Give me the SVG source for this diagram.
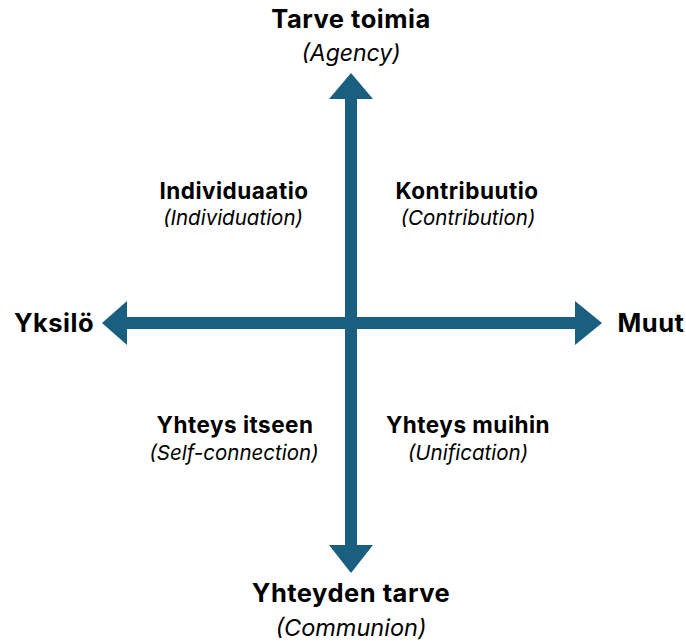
<svg xmlns="http://www.w3.org/2000/svg" width="686" height="643" viewBox="0 0 686 643">
<style>
.b{font-family:Inter,"Open Sans","Liberation Sans",sans-serif;font-weight:bold;fill:#000;text-anchor:middle;letter-spacing:0.5px}
.i{font-family:Inter,"Liberation Sans",sans-serif;font-style:italic;fill:#000;text-anchor:middle}
.L{font-size:25.5px}
.q{font-size:22.5px}
.ax{fill:#1a5e80}
</style>
<rect width="686" height="643" fill="#fff"/>
<g id="connectors">
<polygon class="ax" points="351,73 373,99 357,99 357,545 373,545 351,573 329,545 345,545 345,99 329,99"/>
<polygon class="ax" points="102,323 127,301 127,317 575,317 575,301 602,323 575,345 575,329 127,329 127,345"/>
</g>
<g id="top"><text class="b L" x="351" y="28">Tarve toimia</text><text class="i" x="351" y="61" font-size="23">(Agency)</text></g>
<g id="bottom"><text class="b L" x="351" y="602">Yhteyden tarve</text><text class="i" x="351" y="636" font-size="23.5">(Communion)</text></g>
<g id="left"><text class="b L" x="54" y="332">Yksilö</text></g>
<g id="right"><text class="b L" x="651" y="332">Muut</text></g>
<g id="q1"><text class="b q" x="234" y="199">Individuaatio</text><text class="i" x="233" y="225" font-size="20.5">(Individuation)</text></g>
<g id="q2"><text class="b q" x="467" y="199">Kontribuutio</text><text class="i" x="468" y="225" font-size="20.5">(Contribution)</text></g>
<g id="q3"><text class="b q" x="235" y="433">Yhteys itseen</text><text class="i" x="234" y="460" font-size="20.5">(Self-connection)</text></g>
<g id="q4"><text class="b q" x="468" y="433">Yhteys muihin</text><text class="i" x="468" y="460" font-size="20.5">(Unification)</text></g>
</svg>
